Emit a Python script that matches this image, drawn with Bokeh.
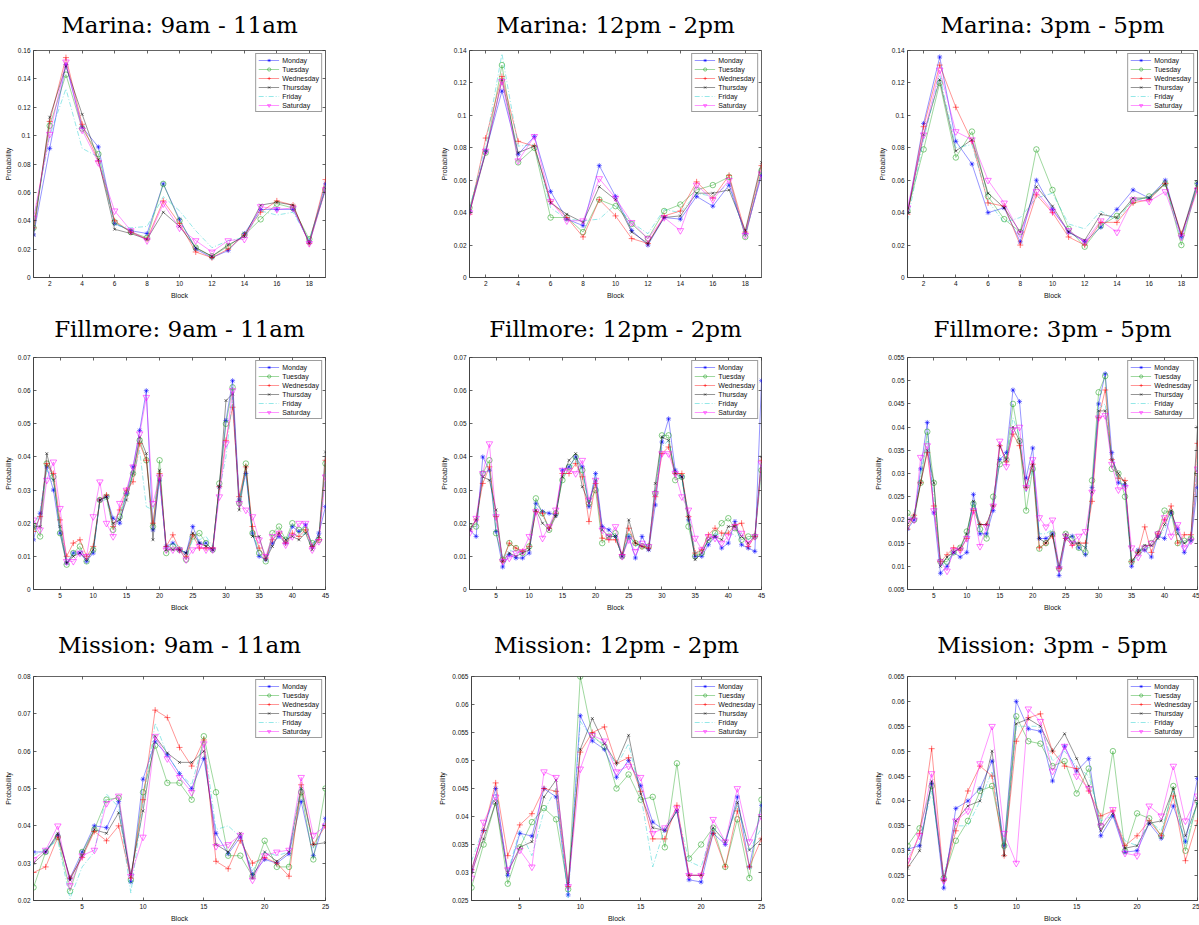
from bokeh.plotting import figure
from bokeh.layouts import column, row
from bokeh.models import FixedTicker, ColumnDataSource, LinearAxis
from bokeh.embed import file_html
from bokeh.resources import INLINE

DAYS = ["Monday", "Tuesday", "Wednesday", "Thursday", "Friday", "Saturday"]

# ---------------- data ----------------
marina_9_11 = {
    "Monday":    [0.030, 0.091, 0.150, 0.106, 0.092, 0.038, 0.033, 0.031, 0.066, 0.041, 0.020, 0.014, 0.019, 0.031, 0.048, 0.048, 0.048, 0.025, 0.066],
    "Tuesday":   [0.035, 0.107, 0.143, 0.105, 0.087, 0.039, 0.032, 0.028, 0.066, 0.040, 0.021, 0.015, 0.022, 0.030, 0.041, 0.052, 0.049, 0.027, 0.062],
    "Wednesday": [0.035, 0.110, 0.155, 0.108, 0.082, 0.040, 0.032, 0.027, 0.054, 0.038, 0.018, 0.014, 0.020, 0.030, 0.046, 0.054, 0.051, 0.024, 0.069],
    "Thursday":  [0.030, 0.113, 0.149, 0.115, 0.083, 0.034, 0.031, 0.027, 0.046, 0.036, 0.021, 0.015, 0.023, 0.029, 0.051, 0.053, 0.051, 0.024, 0.063],
    "Friday":    [0.040, 0.100, 0.133, 0.091, 0.085, 0.037, 0.035, 0.036, 0.057, 0.047, 0.033, 0.021, 0.026, 0.028, 0.047, 0.044, 0.046, 0.026, 0.062],
    "Saturday":  [0.042, 0.101, 0.152, 0.104, 0.081, 0.047, 0.033, 0.026, 0.052, 0.035, 0.026, 0.018, 0.026, 0.027, 0.050, 0.048, 0.049, 0.024, 0.062],
}
marina_12_2 = {
    "Monday":    [0.041, 0.078, 0.115, 0.076, 0.087, 0.053, 0.036, 0.032, 0.069, 0.050, 0.029, 0.020, 0.037, 0.036, 0.050, 0.044, 0.057, 0.027, 0.063],
    "Tuesday":   [0.043, 0.077, 0.131, 0.071, 0.080, 0.037, 0.037, 0.028, 0.048, 0.044, 0.033, 0.024, 0.041, 0.045, 0.054, 0.057, 0.062, 0.025, 0.066],
    "Wednesday": [0.039, 0.086, 0.124, 0.084, 0.081, 0.047, 0.037, 0.025, 0.048, 0.038, 0.024, 0.021, 0.038, 0.041, 0.059, 0.049, 0.063, 0.028, 0.069],
    "Thursday":  [0.040, 0.077, 0.122, 0.077, 0.081, 0.046, 0.039, 0.034, 0.056, 0.048, 0.028, 0.021, 0.037, 0.038, 0.052, 0.052, 0.054, 0.029, 0.071],
    "Friday":    [0.042, 0.082, 0.138, 0.081, 0.082, 0.043, 0.036, 0.035, 0.036, 0.045, 0.034, 0.027, 0.042, 0.040, 0.052, 0.050, 0.058, 0.026, 0.065],
    "Saturday":  [0.040, 0.078, 0.121, 0.072, 0.087, 0.047, 0.035, 0.035, 0.061, 0.049, 0.034, 0.024, 0.037, 0.029, 0.057, 0.048, 0.060, 0.026, 0.064],
}
marina_3_5 = {
    "Monday":    [0.040, 0.095, 0.136, 0.084, 0.070, 0.040, 0.043, 0.022, 0.060, 0.042, 0.028, 0.022, 0.031, 0.042, 0.054, 0.049, 0.060, 0.025, 0.058],
    "Tuesday":   [0.041, 0.079, 0.120, 0.074, 0.090, 0.050, 0.036, 0.028, 0.079, 0.054, 0.030, 0.019, 0.032, 0.038, 0.047, 0.050, 0.058, 0.020, 0.058],
    "Wednesday": [0.039, 0.093, 0.131, 0.105, 0.084, 0.046, 0.044, 0.020, 0.051, 0.040, 0.025, 0.020, 0.034, 0.034, 0.046, 0.048, 0.058, 0.027, 0.055],
    "Thursday":  [0.040, 0.088, 0.122, 0.078, 0.085, 0.052, 0.043, 0.028, 0.056, 0.044, 0.028, 0.023, 0.039, 0.037, 0.049, 0.049, 0.058, 0.026, 0.059],
    "Friday":    [0.035, 0.085, 0.125, 0.080, 0.082, 0.047, 0.034, 0.037, 0.049, 0.052, 0.033, 0.030, 0.041, 0.035, 0.048, 0.049, 0.057, 0.023, 0.057],
    "Saturday":  [0.043, 0.088, 0.128, 0.090, 0.085, 0.060, 0.046, 0.027, 0.053, 0.041, 0.029, 0.022, 0.035, 0.028, 0.048, 0.047, 0.053, 0.025, 0.054],
}
fillmore_9_11 = {
    "Monday":    [0.015, 0.023, 0.037, 0.030, 0.017, 0.008, 0.011, 0.011, 0.0085, 0.011, 0.027, 0.028, 0.0215, 0.020, 0.029, 0.037, 0.048, 0.060, 0.018, 0.033,
                  0.013, 0.014, 0.012, 0.011, 0.019, 0.014, 0.014, 0.012, 0.031, 0.051, 0.063, 0.027, 0.035, 0.017, 0.010, 0.009, 0.014, 0.016, 0.014, 0.019,
                  0.0175, 0.0195, 0.013, 0.017, 0.025],
    "Tuesday":   [0.019, 0.016, 0.038, 0.034, 0.017, 0.0075, 0.011, 0.013, 0.0085, 0.012, 0.027, 0.028, 0.018, 0.022, 0.029, 0.035, 0.045, 0.039, 0.019, 0.039,
                  0.011, 0.013, 0.012, 0.009, 0.016, 0.017, 0.014, 0.012, 0.032, 0.050, 0.061, 0.026, 0.038, 0.017, 0.011, 0.0085, 0.017, 0.019, 0.015, 0.020,
                  0.018, 0.018, 0.014, 0.015, 0.038],
    "Wednesday": [0.0175, 0.022, 0.038, 0.035, 0.021, 0.010, 0.014, 0.015, 0.010, 0.013, 0.027, 0.0285, 0.019, 0.024, 0.030, 0.0325, 0.044, 0.039, 0.020, 0.035,
                  0.013, 0.0165, 0.012, 0.010, 0.0165, 0.0125, 0.0125, 0.0125, 0.031, 0.045, 0.055, 0.028, 0.037, 0.019, 0.0125, 0.0095, 0.015, 0.017, 0.014, 0.017,
                  0.016, 0.018, 0.013, 0.015, 0.039],
    "Thursday":  [0.019, 0.019, 0.041, 0.033, 0.019, 0.008, 0.010, 0.011, 0.009, 0.012, 0.027, 0.028, 0.020, 0.021, 0.027, 0.035, 0.046, 0.041, 0.015, 0.036,
                  0.012, 0.012, 0.012, 0.011, 0.017, 0.014, 0.013, 0.012, 0.031, 0.057, 0.059, 0.024, 0.037, 0.016, 0.016, 0.009, 0.013, 0.017, 0.015, 0.016,
                  0.015, 0.017, 0.012, 0.016, 0.0415],
    "Friday":    [0.018, 0.024, 0.036, 0.033, 0.019, 0.009, 0.011, 0.012, 0.010, 0.012, 0.027, 0.027, 0.019, 0.023, 0.029, 0.034, 0.042, 0.025, 0.024, 0.033,
                  0.012, 0.014, 0.013, 0.010, 0.015, 0.015, 0.016, 0.013, 0.030, 0.040, 0.058, 0.027, 0.035, 0.017, 0.012, 0.0095, 0.015, 0.017, 0.015, 0.017,
                  0.016, 0.017, 0.013, 0.016, 0.036],
    "Saturday":  [0.021, 0.018, 0.033, 0.0385, 0.0245, 0.0085, 0.0085, 0.011, 0.010, 0.022, 0.0325, 0.020, 0.016, 0.026, 0.030, 0.037, 0.047, 0.058, 0.026, 0.034,
                  0.012, 0.012, 0.012, 0.009, 0.012, 0.013, 0.012, 0.012, 0.028, 0.044, 0.060, 0.026, 0.024, 0.022, 0.015, 0.010, 0.016, 0.017, 0.0135, 0.016,
                  0.020, 0.020, 0.012, 0.0145, 0.034],
}
fillmore_12_2 = {
    "Monday":    [0.018, 0.016, 0.040, 0.036, 0.0175, 0.0068, 0.0105, 0.0095, 0.0095, 0.011, 0.026, 0.0235, 0.023, 0.0225, 0.036, 0.037, 0.040, 0.037, 0.025, 0.035,
                  0.019, 0.018, 0.016, 0.010, 0.016, 0.0095, 0.016, 0.012, 0.0255, 0.0445, 0.0515, 0.036, 0.034, 0.021, 0.010, 0.010, 0.0135, 0.016, 0.0125, 0.014,
                  0.0205, 0.0135, 0.0125, 0.0115, 0.063],
    "Tuesday":   [0.019, 0.019, 0.035, 0.039, 0.017, 0.009, 0.014, 0.0125, 0.011, 0.013, 0.0275, 0.023, 0.018, 0.023, 0.033, 0.037, 0.040, 0.036, 0.026, 0.030,
                  0.014, 0.016, 0.017, 0.010, 0.016, 0.014, 0.013, 0.013, 0.029, 0.0465, 0.0465, 0.033, 0.034, 0.019, 0.010, 0.011, 0.015, 0.017, 0.020, 0.0215,
                  0.0185, 0.015, 0.016, 0.016, 0.036],
    "Wednesday": [0.018, 0.021, 0.032, 0.037, 0.022, 0.0085, 0.014, 0.0125, 0.0115, 0.013, 0.0235, 0.023, 0.0185, 0.023, 0.035, 0.035, 0.038, 0.034, 0.0205, 0.032,
                  0.0155, 0.015, 0.015, 0.0105, 0.0185, 0.014, 0.013, 0.0125, 0.028, 0.041, 0.043, 0.035, 0.035, 0.022, 0.011, 0.012, 0.0165, 0.0185, 0.017, 0.017,
                  0.0195, 0.020, 0.013, 0.016, 0.039],
    "Thursday":  [0.018, 0.021, 0.034, 0.033, 0.024, 0.0085, 0.011, 0.010, 0.011, 0.012, 0.024, 0.020, 0.018, 0.022, 0.034, 0.039, 0.041, 0.031, 0.026, 0.033,
                  0.018, 0.016, 0.016, 0.010, 0.021, 0.014, 0.013, 0.012, 0.032, 0.046, 0.045, 0.035, 0.034, 0.022, 0.009, 0.011, 0.015, 0.016, 0.015, 0.019,
                  0.019, 0.016, 0.014, 0.016, 0.040],
    "Friday":    [0.018, 0.020, 0.035, 0.036, 0.020, 0.009, 0.012, 0.011, 0.011, 0.013, 0.025, 0.022, 0.019, 0.023, 0.034, 0.036, 0.039, 0.035, 0.026, 0.035,
                  0.017, 0.016, 0.016, 0.010, 0.017, 0.013, 0.014, 0.013, 0.030, 0.043, 0.045, 0.035, 0.033, 0.023, 0.011, 0.012, 0.015, 0.017, 0.016, 0.018,
                  0.016, 0.017, 0.015, 0.016, 0.038],
    "Saturday":  [0.017, 0.0215, 0.035, 0.044, 0.022, 0.0085, 0.0095, 0.011, 0.0115, 0.016, 0.0235, 0.0155, 0.019, 0.024, 0.036, 0.036, 0.035, 0.039, 0.027, 0.033,
                  0.018, 0.016, 0.019, 0.010, 0.015, 0.0115, 0.014, 0.013, 0.029, 0.041, 0.041, 0.035, 0.028, 0.024, 0.0155, 0.012, 0.016, 0.0155, 0.014, 0.016,
                  0.019, 0.017, 0.014, 0.016, 0.038],
}
fillmore_3_5 = {
    "Monday":    [0.018, 0.020, 0.031, 0.041, 0.0215, 0.0085, 0.010, 0.013, 0.012, 0.013, 0.0255, 0.017, 0.017, 0.022, 0.033, 0.0345, 0.048, 0.0455, 0.029, 0.0355,
                  0.016, 0.016, 0.017, 0.008, 0.016, 0.0165, 0.014, 0.0125, 0.027, 0.045, 0.0515, 0.0345, 0.028, 0.0275, 0.010, 0.0135, 0.0135, 0.012, 0.0165, 0.016,
                  0.0215, 0.018, 0.013, 0.0155, 0.027],
    "Tuesday":   [0.0215, 0.020, 0.028, 0.039, 0.028, 0.011, 0.011, 0.013, 0.014, 0.0175, 0.0235, 0.018, 0.016, 0.025, 0.032, 0.033, 0.045, 0.037, 0.022, 0.031,
                  0.0138, 0.015, 0.017, 0.0095, 0.017, 0.016, 0.014, 0.013, 0.0285, 0.0475, 0.051, 0.031, 0.030, 0.025, 0.011, 0.013, 0.014, 0.015, 0.017, 0.022,
                  0.0215, 0.015, 0.0155, 0.016, 0.030],
    "Wednesday": [0.018, 0.021, 0.028, 0.0345, 0.023, 0.011, 0.0125, 0.014, 0.0135, 0.016, 0.022, 0.019, 0.019, 0.023, 0.036, 0.0325, 0.0385, 0.036, 0.027, 0.032,
                  0.014, 0.015, 0.0165, 0.0095, 0.016, 0.0145, 0.015, 0.015, 0.024, 0.042, 0.048, 0.033, 0.029, 0.0285, 0.011, 0.013, 0.0185, 0.013, 0.017, 0.020,
                  0.023, 0.015, 0.0168, 0.0168, 0.0365],
    "Thursday":  [0.019, 0.021, 0.028, 0.035, 0.028, 0.010, 0.012, 0.013, 0.014, 0.017, 0.024, 0.019, 0.019, 0.023, 0.036, 0.033, 0.040, 0.037, 0.027, 0.032,
                  0.016, 0.015, 0.017, 0.010, 0.017, 0.015, 0.015, 0.014, 0.026, 0.0435, 0.0435, 0.033, 0.030, 0.028, 0.011, 0.013, 0.0145, 0.0145, 0.016, 0.019,
                  0.022, 0.017, 0.015, 0.016, 0.040],
    "Friday":    [0.020, 0.021, 0.030, 0.037, 0.025, 0.010, 0.011, 0.013, 0.014, 0.016, 0.024, 0.018, 0.018, 0.024, 0.034, 0.033, 0.042, 0.038, 0.026, 0.031,
                  0.017, 0.017, 0.018, 0.0095, 0.016, 0.015, 0.015, 0.014, 0.026, 0.044, 0.045, 0.033, 0.029, 0.027, 0.011, 0.012, 0.014, 0.014, 0.016, 0.018,
                  0.021, 0.017, 0.015, 0.016, 0.033],
    "Saturday":  [0.020, 0.020, 0.0335, 0.036, 0.022, 0.011, 0.009, 0.0135, 0.0135, 0.016, 0.022, 0.0143, 0.0185, 0.023, 0.037, 0.0315, 0.0395, 0.040, 0.027, 0.033,
                  0.0205, 0.0185, 0.020, 0.0095, 0.0165, 0.015, 0.0165, 0.0175, 0.026, 0.042, 0.0425, 0.032, 0.0265, 0.027, 0.014, 0.012, 0.014, 0.015, 0.017, 0.0205,
                  0.0165, 0.019, 0.014, 0.0155, 0.031],
}
mission_9_11 = {
    "Monday":    [0.033, 0.033, 0.0375, 0.026, 0.033, 0.040, 0.0395, 0.0465, 0.025, 0.0525, 0.0625, 0.059, 0.054, 0.050, 0.058, 0.038, 0.0325, 0.037, 0.027, 0.031, 0.030, 0.0325, 0.0465, 0.032, 0.042],
    "Tuesday":   [0.0235, 0.033, 0.037, 0.0225, 0.033, 0.039, 0.047, 0.0475, 0.0255, 0.049, 0.0615, 0.0515, 0.0515, 0.047, 0.064, 0.049, 0.032, 0.032, 0.0265, 0.036, 0.029, 0.029, 0.049, 0.031, 0.050],
    "Wednesday": [0.0275, 0.029, 0.037, 0.026, 0.0315, 0.0385, 0.036, 0.040, 0.026, 0.047, 0.071, 0.069, 0.061, 0.056, 0.063, 0.0305, 0.0285, 0.036, 0.030, 0.0315, 0.030, 0.0265, 0.051, 0.035, 0.040],
    "Thursday":  [0.030, 0.033, 0.038, 0.0255, 0.032, 0.039, 0.038, 0.0435, 0.027, 0.044, 0.064, 0.0595, 0.057, 0.057, 0.060, 0.035, 0.033, 0.038, 0.026, 0.033, 0.0305, 0.033, 0.050, 0.035, 0.0355],
    "Friday":    [0.032, 0.034, 0.036, 0.0205, 0.029, 0.033, 0.0485, 0.045, 0.022, 0.046, 0.0675, 0.059, 0.054, 0.051, 0.063, 0.039, 0.040, 0.037, 0.028, 0.033, 0.032, 0.033, 0.051, 0.034, 0.041],
    "Saturday":  [0.031, 0.0335, 0.040, 0.024, 0.032, 0.0335, 0.046, 0.048, 0.0265, 0.037, 0.064, 0.058, 0.053, 0.049, 0.062, 0.0345, 0.035, 0.0375, 0.0255, 0.032, 0.033, 0.0335, 0.053, 0.0375, 0.040],
}
mission_12_2 = {
    "Monday":    [0.0305, 0.0375, 0.045, 0.0295, 0.037, 0.0365, 0.045, 0.0435, 0.026, 0.058, 0.0535, 0.052, 0.047, 0.050, 0.0455, 0.039, 0.0375, 0.041, 0.0287, 0.0283, 0.037, 0.035, 0.0435, 0.031, 0.042],
    "Tuesday":   [0.0273, 0.035, 0.0425, 0.028, 0.0345, 0.039, 0.0415, 0.0395, 0.027, 0.065, 0.0545, 0.0525, 0.045, 0.0475, 0.043, 0.0435, 0.0345, 0.0495, 0.0325, 0.035, 0.038, 0.031, 0.0395, 0.029, 0.043],
    "Wednesday": [0.0305, 0.0375, 0.046, 0.033, 0.0385, 0.0405, 0.045, 0.0445, 0.0275, 0.0515, 0.055, 0.056, 0.0495, 0.0505, 0.0445, 0.036, 0.036, 0.042, 0.0295, 0.0295, 0.037, 0.031, 0.041, 0.031, 0.036],
    "Thursday":  [0.030, 0.036, 0.0425, 0.030, 0.0345, 0.0355, 0.0435, 0.0465, 0.028, 0.052, 0.0575, 0.053, 0.0495, 0.0545, 0.044, 0.038, 0.0375, 0.041, 0.0295, 0.0295, 0.038, 0.0355, 0.0425, 0.034, 0.036],
    "Friday":    [0.032, 0.038, 0.044, 0.030, 0.0375, 0.033, 0.041, 0.045, 0.0255, 0.057, 0.054, 0.053, 0.049, 0.053, 0.044, 0.031, 0.038, 0.041, 0.032, 0.031, 0.038, 0.0355, 0.042, 0.034, 0.038],
    "Saturday":  [0.029, 0.039, 0.0435, 0.0305, 0.034, 0.031, 0.048, 0.047, 0.0275, 0.0485, 0.0545, 0.0535, 0.048, 0.049, 0.047, 0.037, 0.038, 0.0415, 0.0295, 0.0295, 0.0395, 0.0355, 0.045, 0.0355, 0.040],
}
mission_3_5 = {
    "Monday":    [0.0303, 0.031, 0.0435, 0.0225, 0.0385, 0.040, 0.0425, 0.048, 0.031, 0.060, 0.0545, 0.054, 0.044, 0.051, 0.046, 0.0485, 0.033, 0.037, 0.0297, 0.030, 0.0355, 0.0325, 0.039, 0.0318, 0.0445],
    "Tuesday":   [0.031, 0.0345, 0.043, 0.0245, 0.032, 0.036, 0.042, 0.043, 0.031, 0.057, 0.052, 0.0515, 0.047, 0.048, 0.0415, 0.0465, 0.035, 0.050, 0.030, 0.0375, 0.0365, 0.033, 0.043, 0.030, 0.040],
    "Wednesday": [0.027, 0.0335, 0.0505, 0.024, 0.034, 0.042, 0.047, 0.045, 0.029, 0.052, 0.0567, 0.0575, 0.050, 0.047, 0.0465, 0.042, 0.037, 0.038, 0.031, 0.033, 0.036, 0.033, 0.041, 0.028, 0.036],
    "Thursday":  [0.0265, 0.030, 0.044, 0.024, 0.036, 0.039, 0.040, 0.050, 0.029, 0.0555, 0.0565, 0.055, 0.050, 0.0535, 0.0485, 0.043, 0.034, 0.0375, 0.0305, 0.031, 0.0355, 0.036, 0.0425, 0.033, 0.0395],
    "Friday":    [0.029, 0.032, 0.042, 0.025, 0.035, 0.035, 0.040, 0.046, 0.030, 0.055, 0.055, 0.055, 0.048, 0.050, 0.047, 0.045, 0.036, 0.037, 0.032, 0.031, 0.036, 0.034, 0.042, 0.031, 0.040],
    "Saturday":  [0.028, 0.033, 0.0455, 0.024, 0.036, 0.038, 0.0475, 0.055, 0.0335, 0.0275, 0.0585, 0.056, 0.046, 0.051, 0.045, 0.0425, 0.035, 0.0383, 0.0295, 0.029, 0.039, 0.037, 0.047, 0.036, 0.041],
}

titles = ["Marina: 9am - 11am", "Marina: 12pm - 2pm", "Marina: 3pm - 5pm",
          "Fillmore: 9am - 11am", "Fillmore: 12pm - 2pm", "Fillmore: 3pm - 5pm",
          "Mission: 9am - 11am", "Mission: 12pm - 2pm", "Mission: 3pm - 5pm"]

xticks_marina = [2, 4, 6, 8, 10, 12, 14, 16, 18]
xticks_fillmore = [5, 10, 15, 20, 25, 30, 35, 40, 45]
xticks_mission = [5, 10, 15, 20, 25]

yticks_m1 = [0, 0.02, 0.04, 0.06, 0.08, 0.1, 0.12, 0.14, 0.16]
yticks_m2 = [0, 0.02, 0.04, 0.06, 0.08, 0.1, 0.12, 0.14]
yticks_f12 = [0, 0.01, 0.02, 0.03, 0.04, 0.05, 0.06, 0.07]
yticks_f3 = [0.005, 0.01, 0.015, 0.02, 0.025, 0.03, 0.035, 0.04, 0.045, 0.05, 0.055]
yticks_mi1 = [0.02, 0.03, 0.04, 0.05, 0.06, 0.07, 0.08]
yticks_mi2 = [0.025, 0.03, 0.035, 0.04, 0.045, 0.05, 0.055, 0.06, 0.065]
yticks_mi3 = [0.02, 0.025, 0.03, 0.035, 0.04, 0.045, 0.05, 0.055, 0.06, 0.065]

panels = [
    (marina_9_11, 19, xticks_marina, yticks_m1),
    (marina_12_2, 19, xticks_marina, yticks_m2),
    (marina_3_5, 19, xticks_marina, yticks_m2),
    (fillmore_9_11, 45, xticks_fillmore, yticks_f12),
    (fillmore_12_2, 45, xticks_fillmore, yticks_f12),
    (fillmore_3_5, 45, xticks_fillmore, yticks_f3),
    (mission_9_11, 25, xticks_mission, yticks_mi1),
    (mission_12_2, 25, xticks_mission, yticks_mi2),
    (mission_3_5, 25, xticks_mission, yticks_mi3),
]

# ---------------- styles ----------------
COLORS = ["#0000ff", "#17a017", "#ff0000", "#000000", "#00c8c8", "#ff00ff"]
MARKERS = ["asterisk", "circle", "cross", "x", None, "inverted_triangle"]
MSIZES = [5, 5.5, 6, 4, 0, 6.5]
DASHES = ["solid", "solid", "solid", "solid", "5 2 1 2", "solid"]

COL_W = [436, 436, 327]
COL_LEFT = [33, 33, 35]
COL_RIGHT = [111, 111, 2]
ROW_H = [301, 314, 309]
ROW_TOP = [49, 56, 61]
ROW_BOTTOM = [23, 26, 23]
ROW_STANDOFF = [22, 28, 33]

AX = "#3c3c3c"
TICK_FONT = "Liberation Sans"


def style_axis(ax, ticks):
    ax.ticker = FixedTicker(ticks=ticks)
    ax.major_tick_in = 3
    ax.major_tick_out = 0
    ax.minor_tick_line_color = None
    ax.axis_line_color = AX
    ax.axis_line_width = 0.8
    ax.major_tick_line_color = AX
    ax.major_tick_line_width = 0.8
    ax.major_label_text_font = TICK_FONT
    ax.major_label_text_color = "#111111"
    ax.major_label_text_font_size = "6.5px"
    ax.major_label_standoff = 3
    ax.axis_label_text_font = TICK_FONT
    ax.axis_label_text_font_style = "normal"
    ax.axis_label_text_font_size = "7px"
    ax.axis_label_text_color = "#111111"
    ax.axis_label_standoff = 3


def mirror_axis(ticks):
    ax = LinearAxis(ticker=FixedTicker(ticks=ticks))
    ax.major_tick_in = 3
    ax.major_tick_out = 0
    ax.minor_tick_line_color = None
    ax.axis_line_color = None
    ax.major_tick_line_color = AX
    ax.major_tick_line_width = 0.8
    ax.major_label_text_color = None
    ax.major_label_standoff = 0
    return ax


rows = []
for r in range(3):
    figs = []
    for c in range(3):
        data, nb, xt, yt = panels[r * 3 + c]
        p = figure(width=COL_W[c], height=ROW_H[r],
                   x_range=(1, nb), y_range=(yt[0], yt[-1]),
                   output_backend="svg", toolbar_location=None,
                   min_border_left=COL_LEFT[c], min_border_right=COL_RIGHT[c],
                   min_border_top=ROW_TOP[r], min_border_bottom=ROW_BOTTOM[r])
        p.title.text = titles[r * 3 + c]
        p.title.text_font = "DejaVu Serif"
        p.title.text_font_size = "23px"
        p.title.text_font_style = "normal"
        p.title.text_color = "#000000"
        p.title.align = "center"
        p.title.vertical_align = "top"
        p.title.standoff = ROW_STANDOFF[r]

        p.xgrid.visible = False
        p.ygrid.visible = False
        p.outline_line_color = AX
        p.outline_line_width = 0.8
        p.background_fill_color = "white"

        p.xaxis.axis_label = "Block"
        p.yaxis.axis_label = "Probability"
        style_axis(p.xaxis[0], xt)
        style_axis(p.yaxis[0], yt)
        p.yaxis[0].major_label_overrides = {t: f"{t:g}" for t in yt}

        # mirrored inward ticks on top and right (as in the MATLAB figure)
        p.add_layout(mirror_axis(xt), "above")
        p.add_layout(mirror_axis(yt), "right")

        for day, color, marker, ms, dash in zip(DAYS, COLORS, MARKERS, MSIZES, DASHES):
            ys = data[day]
            src = ColumnDataSource(dict(x=list(range(1, len(ys) + 1)), y=ys))
            p.line("x", "y", source=src, line_color=color, line_width=0.7,
                   line_alpha=0.6, line_dash=dash, legend_label=day)
            if marker:
                p.scatter("x", "y", source=src, marker=marker, size=ms,
                          line_color=color, fill_color=None, line_width=0.7,
                          line_alpha=0.75, legend_label=day)

        lg = p.legend[0]
        lg.location = "top_right"
        lg.label_text_font = TICK_FONT
        lg.label_text_font_size = "7px"
        lg.label_text_color = "#111111"
        lg.glyph_width = 21
        lg.glyph_height = 8
        lg.label_height = 8
        lg.label_standoff = 3
        lg.spacing = 1
        lg.padding = 2
        lg.margin = 3
        lg.border_line_color = AX
        lg.border_line_width = 0.8
        lg.background_fill_alpha = 1.0
        figs.append(p)
    rows.append(row(*figs))

layout = column(*rows)
open("out.html", "w").write(file_html(layout, INLINE))
